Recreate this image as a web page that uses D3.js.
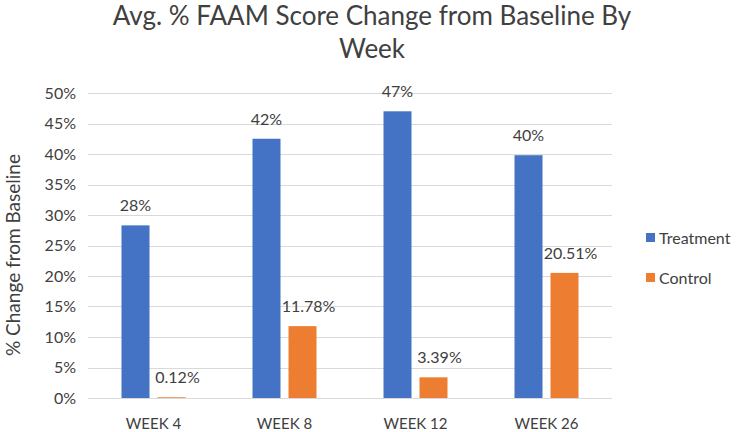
<!DOCTYPE html>
<html>
<head>
<meta charset="utf-8">
<script src="https://cdn.jsdelivr.net/npm/d3@7"></script>
<style>
  html, body { margin: 0; padding: 0; background: #fff; }
  svg { display: block; font-family: Lato, "Open Sans", sans-serif; }
</style>
</head>
<body>
<svg id="chart" width="744" height="432"></svg>
<script>
const weeks = ["WEEK 4", "WEEK 8", "WEEK 12", "WEEK 26"];
const seriesNames = ["Treatment", "Control"];
const treatment = [28.3, 42.5, 47.0, 39.8];
const control = [0.12, 11.78, 3.39, 20.51];
const treatmentLabels = ["28%", "42%", "47%", "40%"];
const controlLabels = ["0.12%", "11.78%", "3.39%", "20.51%"];
const yTicks = [0, 5, 10, 15, 20, 25, 30, 35, 40, 45, 50];
const colors = ["#4472C4", "#ED7D31"];

const svg = d3.select("#chart");
const textColor = "#404040";

const x = d3.scaleBand().domain(weeks).range([88, 612]).paddingInner(0).paddingOuter(0);
const x1 = d3.scaleBand().domain(seriesNames)
  .range([x.bandwidth() / 2 - 32, x.bandwidth() / 2 + 32])
  .paddingInner(2 - 64 / 36).paddingOuter(0);
const y = d3.scaleLinear().domain([0, 50]).range([398, 93]);

// gridlines
svg.append("g").selectAll("line").data(yTicks).join("line")
  .attr("x1", 88).attr("x2", 612)
  .attr("y1", d => Math.round(y(d)) + 0.5).attr("y2", d => Math.round(y(d)) + 0.5)
  .attr("stroke", "#d9d9d9").attr("stroke-width", 1);

// y axis labels
const yAxis = d3.axisLeft(y).tickValues(yTicks).tickFormat(d => d + "%").tickSize(0).tickPadding(0);
const gy = svg.append("g").attr("transform", "translate(76,0)").call(yAxis);
gy.select(".domain").remove();
gy.selectAll("text").attr("fill", textColor).style("font-size", "16px").style("font-family", "Lato, 'Open Sans', sans-serif");

// x axis labels
const xAxis = d3.axisBottom(x).tickSize(0).tickPadding(0);
const gx = svg.append("g").attr("transform", "translate(0,418)").call(xAxis);
gx.select(".domain").remove();
gx.selectAll("text").attr("fill", textColor).style("font-size", "15px").style("font-family", "Lato, 'Open Sans', sans-serif");

const data = weeks.map((w, i) => ({ week: w, values: [
  { s: "Treatment", v: treatment[i], label: treatmentLabels[i], c: colors[0], dx: 0 },
  { s: "Control", v: control[i], label: controlLabels[i], c: colors[1], dx: 6 }
]}));

const groups = svg.append("g").selectAll("g").data(data).join("g")
  .attr("transform", d => `translate(${x(d.week)},0)`);

groups.selectAll("rect").data(d => d.values).join("rect")
  .attr("x", d => x1(d.s)).attr("width", x1.bandwidth())
  .attr("y", d => y(d.v)).attr("height", d => y(0) - y(d.v))
  .attr("fill", d => d.c);

groups.selectAll("text.lbl").data(d => d.values).join("text")
  .attr("class", "lbl")
  .attr("x", d => x1(d.s) + x1.bandwidth() / 2 + d.dx)
  .attr("y", d => y(d.v) - 14)
  .attr("text-anchor", "middle")
  .attr("fill", textColor)
  .style("font-size", "16px")
  .text(d => d.label);

// title
const title = svg.append("text").attr("x", 372).attr("text-anchor", "middle")
  .attr("fill", textColor).style("font-size", "26px");
title.append("tspan").attr("x", 372).attr("y", 25).text("Avg. % FAAM Score Change from Baseline By");
title.append("tspan").attr("x", 372).attr("y", 58).text("Week");

// y axis title
svg.append("text").attr("transform", "translate(20,255) rotate(-90)")
  .attr("text-anchor", "middle").attr("fill", textColor).style("font-size", "19px")
  .text("% Change from Baseline");

// legend
const leg = svg.append("g").selectAll("g").data(seriesNames).join("g")
  .attr("transform", (d, i) => `translate(646,${238 + i * 40})`);
leg.append("rect").attr("x", 0).attr("y", -5).attr("width", 9).attr("height", 9)
  .attr("fill", (d, i) => colors[i]);
leg.append("text").attr("x", 13).attr("y", 5.5).attr("fill", textColor)
  .style("font-size", "16px").text(d => d);
</script>
</body>
</html>
